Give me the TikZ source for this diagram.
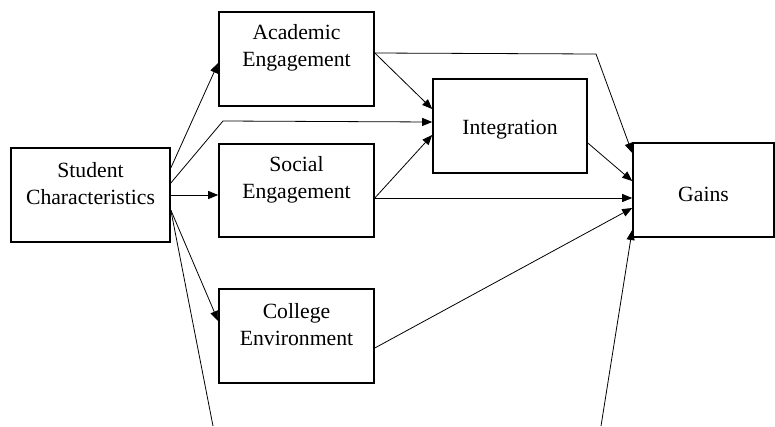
\documentclass[tikz,border=0pt]{standalone}
\usepackage{fontspec}
\setmainfont{Liberation Serif}
\usetikzlibrary{arrows.meta}

\begin{document}
\begin{tikzpicture}[x=1pt, y=-1pt,
    box/.style={draw=borderColour, line width=1.6pt, minimum width=155pt, minimum height=94pt, inner sep=0pt},
    boxtext/.style={align=center, font=\fontsize{21.7}{27}\selectfont, inner sep=0pt},
    link/.style={draw=borderColour, line width=0.8pt},
    arrow/.style={link, -{Triangle[length=10pt, width=8pt]}}]
    % Define colours
    \definecolor{borderColour}{HTML}{000000}

    % Define text offsets inside the boxes
    \def\twoLine{11pt}
    \def\oneLine{-4pt}

    % Fix page size
    \useasboundingbox (0,0) rectangle (775,426);

    % Draw boxes
    \node[box, minimum width=159pt] (sc) at (90.5,195) {};
    \node[box] (acad) at (296.5,59) {};
    \node[box, minimum height=93pt] (social) at (296.5,190.5) {};
    \node[box] (college) at (296.5,336) {};
    \node[box, minimum width=154pt] (integ) at (510,126) {};
    \node[box, minimum width=141pt] (gains) at (703.5,190) {};

    % Label the boxes
    \node[boxtext] (scText) at ([yshift=\twoLine]sc.center) {Student\\Characteristics};
    \node[boxtext] (acadText) at ([yshift=\twoLine]acad.center) {Academic\\Engagement};
    \node[boxtext] (socialText) at ([yshift=\twoLine]social.center) {Social\\Engagement};
    \node[boxtext] (collegeText) at ([yshift=\twoLine]college.center) {College\\Environment};
    \node[boxtext] (integText) at ([yshift=\oneLine]integ.center) {Integration};
    \node[boxtext] (gainsText) at ([yshift=\oneLine]gains.center) {Gains};

    % Define bend points and loose ends
    \coordinate (scBend) at (223,121);
    \coordinate (acadBend) at (596,54);
    \coordinate (scOut) at (213,426);
    \coordinate (gainsIn) at (601,426);

    % Draw paths from student characteristics
    \draw[arrow] ([yshift=27pt]sc.east) -- ([yshift=-4pt]acad.west);
    \draw[arrow] ([yshift=12pt]sc.east) -- (scBend) -- ([yshift=4pt]integ.west);
    \draw[arrow] (sc.east) -- (sc.east -| social.west);
    \draw[arrow] ([yshift=-15pt]sc.east) -- ([yshift=15pt]college.west);
    \draw[link] ([yshift=-15pt]sc.east) -- (scOut);

    % Draw paths from engagement and environment
    \draw[arrow] ([yshift=6pt]acad.east) -- (acadBend) -- ([yshift=37pt]gains.west);
    \draw[arrow] ([yshift=6pt]acad.east) -- ([yshift=17pt]integ.west);
    \draw[arrow] ([yshift=-7.5pt]social.east) -- ([yshift=-9pt]integ.west);
    \draw[arrow] ([yshift=-7.5pt]social.east) -- ([yshift=-8pt]gains.west);
    \draw[arrow] ([yshift=-12pt]college.east) -- ([yshift=-18pt]gains.west);

    % Draw paths into gains
    \draw[arrow] ([yshift=-17pt]integ.east) -- ([yshift=9pt]gains.west);
    \draw[arrow] (gainsIn) -- ([yshift=-40pt]gains.west);

\end{tikzpicture}
\end{document}
